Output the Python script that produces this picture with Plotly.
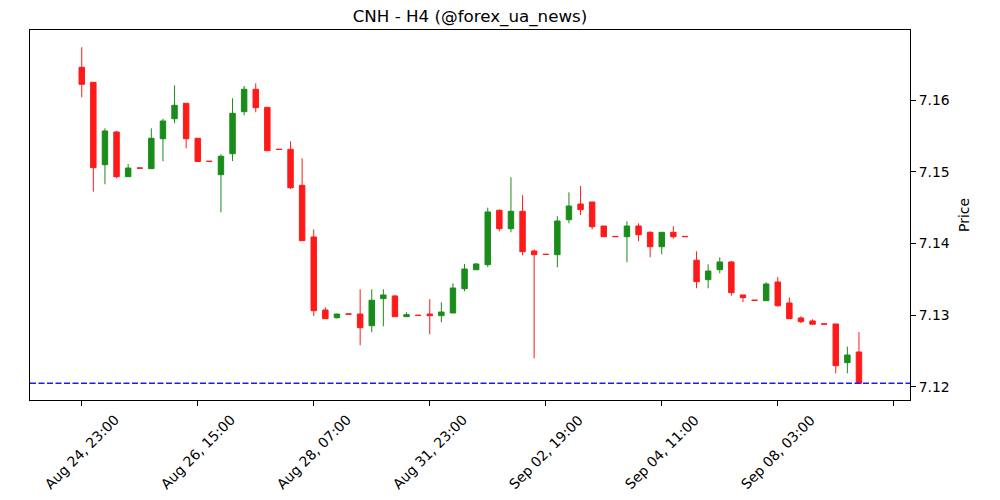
import plotly.graph_objects as go

# --- data ---
open_ = [7.16457, 7.16247, 7.15098, 7.15554, 7.14930, 7.15052, 7.15042, 7.15460, 7.15739, 7.15954,
         7.15466, 7.15146, 7.14958, 7.15251, 7.15837, 7.16150, 7.15898, 7.15313, 7.15312, 7.14810,
         7.14089, 7.13070, 7.12963, 7.13015, 7.13014, 7.12851, 7.13228, 7.13266, 7.12977, 7.12997,
         7.13014, 7.12991, 7.13028, 7.13367, 7.13632, 7.13702, 7.14461, 7.14205, 7.14447, 7.13893,
         7.13848, 7.13842, 7.14330, 7.14549, 7.14577, 7.14242, 7.14097, 7.14093, 7.14242, 7.14154,
         7.13953, 7.14154, 7.14097, 7.13764, 7.13493, 7.13632, 7.13740, 7.13280, 7.13207, 7.13200,
         7.13461, 7.13168, 7.12959, 7.12917, 7.12876, 7.12875, 7.12335, 7.12484]
high = [7.16736, 7.16250, 7.15605, 7.15568, 7.15107, 7.15052, 7.15605, 7.15739, 7.16205, 7.15954,
        7.15466, 7.15146, 7.15243, 7.16024, 7.16196, 7.16233, 7.15898, 7.15313, 7.15424, 7.15187,
        7.14196, 7.13108, 7.13014, 7.13015, 7.13359, 7.13359, 7.13359, 7.13280, 7.13038, 7.12997,
        7.13220, 7.13178, 7.13443, 7.13712, 7.13726, 7.14498, 7.14475, 7.14922, 7.14671, 7.13917,
        7.13848, 7.14378, 7.14712, 7.14800, 7.14577, 7.14242, 7.14097, 7.14308, 7.14280, 7.14168,
        7.14154, 7.14238, 7.14097, 7.13889, 7.13708, 7.13806, 7.13754, 7.13280, 7.13207, 7.13457,
        7.13531, 7.13247, 7.12982, 7.12940, 7.12876, 7.12875, 7.12558, 7.12763]
low = [7.16038, 7.14721, 7.14824, 7.14908, 7.14930, 7.15049, 7.15040, 7.15145, 7.15675, 7.15326,
       7.15142, 7.15143, 7.14433, 7.15149, 7.15787, 7.15829, 7.15293, 7.15310, 7.14758, 7.14037,
       7.12986, 7.12949, 7.12949, 7.13012, 7.12578, 7.12759, 7.12843, 7.12977, 7.12977, 7.12994,
       7.12731, 7.12899, 7.13028, 7.13331, 7.13632, 7.13666, 7.14168, 7.14154, 7.13833, 7.12396,
       7.13845, 7.13666, 7.14280, 7.14396, 7.14196, 7.14093, 7.14094, 7.13736, 7.14029, 7.13806,
       7.13847, 7.14065, 7.14094, 7.13373, 7.13373, 7.13582, 7.13270, 7.13178, 7.13204, 7.13200,
       7.13116, 7.12949, 7.12885, 7.12871, 7.12873, 7.12187, 7.12187, 7.12047]
close = [7.16219, 7.15056, 7.15568, 7.14930, 7.15051, 7.15049, 7.15466, 7.15707, 7.15926, 7.15460,
         7.15142, 7.15143, 7.15215, 7.15815, 7.16150, 7.15893, 7.15293, 7.15310, 7.14777, 7.14037,
         7.13060, 7.12949, 7.13014, 7.13012, 7.12823, 7.13206, 7.13280, 7.12977, 7.13005, 7.12994,
         7.12991, 7.13042, 7.13377, 7.13642, 7.13712, 7.14438, 7.14205, 7.14447, 7.13884, 7.13842,
         7.13845, 7.14312, 7.14521, 7.14470, 7.14232, 7.14093, 7.14094, 7.14242, 7.14121, 7.13953,
         7.14154, 7.14093, 7.14094, 7.13465, 7.13614, 7.13740, 7.13312, 7.13242, 7.13204, 7.13433,
         7.13130, 7.12949, 7.12907, 7.12871, 7.12873, 7.12293, 7.12442, 7.12047]

tick_positions = [0, 10, 20, 30, 40, 50, 60, 70]
tick_labels = ["Aug 24, 23:00", "Aug 26, 15:00", "Aug 28, 07:00", "Aug 31, 23:00",
               "Sep 02, 19:00", "Sep 04, 11:00", "Sep 08, 03:00", ""]
y_ticks = [7.12, 7.13, 7.14, 7.15, 7.16]

x = list(range(len(open_)))

UP = "#1a8c1a"
DOWN = "#ff1a1a"
FONT = "DejaVu Sans"

fig = go.Figure()
fig.add_trace(go.Candlestick(
    x=x, open=open_, high=high, low=low, close=close,
    increasing=dict(line=dict(color=UP, width=1), fillcolor=UP),
    decreasing=dict(line=dict(color=DOWN, width=1), fillcolor=DOWN),
    whiskerwidth=0,
    showlegend=False,
))

fig.add_shape(type="line", xref="paper", x0=0, x1=1, yref="y",
              y0=close[-1], y1=close[-1],
              line=dict(color="#1a1aff", width=1.4, dash="6px,2.5px"))

# rotated tick labels, centred under each tick (matplotlib style)
for pos, lab in zip(tick_positions, tick_labels):
    if lab:
        fig.add_annotation(x=pos, xref="x", y=0, yref="paper", yshift=-9,
                           text=lab, textangle=-45, showarrow=False,
                           xanchor="center", yanchor="top",
                           font=dict(family=FONT, size=13.9, color="black"))

fig.update_layout(
    width=1000, height=500, autosize=False,
    margin=dict(l=30, r=90, t=30, b=100),
    paper_bgcolor="white", plot_bgcolor="white",
    font=dict(family=FONT, size=13.9, color="black"),
    title=dict(text="CNH - H4 (@forex_ua_news)", x=0.5, xref="paper", xanchor="center",
               y=1 - 16 / 500, yref="container", yanchor="middle",
               font=dict(family=FONT, size=16.7, color="black")),
    boxgap=0.33,
    xaxis=dict(
        range=[-4.46, 71.4], rangeslider=dict(visible=False),
        tickmode="array", tickvals=tick_positions, showticklabels=False,
        ticks="outside", ticklen=5, tickcolor="black",
        showline=True, linecolor="black", linewidth=1, mirror=True,
        showgrid=False, zeroline=False, automargin=False,
    ),
    yaxis=dict(
        range=[7.11814, 7.16977], side="right",
        tickmode="array", tickvals=y_ticks, ticktext=[f"{v:.2f}" for v in y_ticks],
        ticks="outside", ticklen=5, tickcolor="black",
        showline=True, linecolor="black", linewidth=1, mirror=True,
        showgrid=False, zeroline=False, automargin=False,
        title=dict(text="Price", standoff=10, font=dict(family=FONT, size=13.9, color="black")),
        tickfont=dict(family=FONT, size=13.9, color="black"),
    ),
    hovermode=False,
)

fig.write_html("out.html")
